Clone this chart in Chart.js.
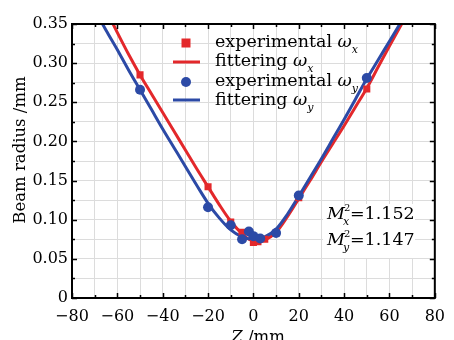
<!DOCTYPE html>
<html>
<head>
<meta charset="utf-8">
<script src="https://cdn.jsdelivr.net/npm/chart.js@4.4.1/dist/chart.umd.min.js"></script>
<style>
  html, body { margin: 0; padding: 0; background: #fff; }
  canvas { display: block; }
</style>
</head>
<body>
<canvas id="beamChart" width="454" height="340"></canvas>
<script>
// measured beam radius (mm) at each position z (mm)
const zX = [-50, -20, -10, -5, 0, 2, 5, 10, 20, 50];
const wxMeasured = [0.285, 0.142, 0.097, 0.084, 0.071, 0.072, 0.075, 0.083, 0.128, 0.267];
const zY = [-50, -20, -10, -5, -2, 0, 3, 10, 20, 50];
const wyMeasured = [0.266, 0.116, 0.093, 0.075, 0.085, 0.079, 0.076, 0.083, 0.131, 0.281];

// fitted caustic curves, sampled along z
const zFit = [-70, -65, -60, -55, -50, -45, -40, -35, -30, -25, -20, -15, -10, -5, -2, 0, 2, 5, 10, 15, 20, 25, 30, 35, 40, 45, 50, 55, 60, 65, 70];
const wxFit = [0.398, 0.368, 0.339, 0.311, 0.285, 0.261, 0.237, 0.213, 0.189, 0.165, 0.142, 0.119, 0.098, 0.082, 0.075, 0.073, 0.072, 0.074, 0.084, 0.104, 0.127, 0.150, 0.174, 0.197, 0.220, 0.244, 0.268, 0.295, 0.322, 0.348, 0.375];
const wyFit = [0.368, 0.342, 0.317, 0.291, 0.266, 0.241, 0.216, 0.192, 0.168, 0.144, 0.121, 0.102, 0.087, 0.078, 0.0755, 0.075, 0.0755, 0.078, 0.088, 0.107, 0.130, 0.154, 0.178, 0.203, 0.228, 0.254, 0.280, 0.304, 0.328, 0.352, 0.376];

const m2Labels = ['1.152', '1.147'];

const RED = '#e3282b';
const BLUE = '#2c4aa6';
const FONT = "'DejaVu Serif', serif";

const pairs = (xs, ys) => xs.map((v, i) => ({ x: v, y: ys[i] }));

function fmtZ(v) {
    return v < 0 ? '\u2212' + Math.abs(v) : String(v);
}

// draws consecutive text runs (each with its own font / vertical shift)
function textWithSub(ctx, parts, x, y) {
    parts.forEach(p => {
        ctx.font = p.font;
        ctx.fillText(p.t, x, y + (p.dy || 0));
        x += ctx.measureText(p.t).width + (p.gap || 0);
    });
    return x;
}

const decorations = {
    id: 'decorations',
    beforeDatasetsDraw(chart) {
        const ctx = chart.ctx;
        ctx.save();
        ctx.fillStyle = '#fff';
        ctx.fillRect(323, 204, 92, 54);
        ctx.restore();
    },
    afterDatasetsDraw(chart) {
        const { ctx, chartArea: a, scales: { x, y } } = chart;
        ctx.save();

        // inward tick marks on all four sides
        ctx.strokeStyle = '#000';
        ctx.lineWidth = 1.5;
        ctx.beginPath();
        for (let v = -80; v <= 80; v += 10) {
            const px = Math.round(x.getPixelForValue(v)) + 0.5;
            const len = v % 20 === 0 ? 5 : 3;
            ctx.moveTo(px, a.bottom); ctx.lineTo(px, a.bottom - len);
            ctx.moveTo(px, a.top); ctx.lineTo(px, a.top + len);
        }
        for (let i = 0; i <= 14; i++) {
            const py = Math.round(y.getPixelForValue(i * 0.025)) + 0.5;
            const len = i % 2 === 0 ? 5 : 3;
            ctx.moveTo(a.left, py); ctx.lineTo(a.left + len, py);
            ctx.moveTo(a.right, py); ctx.lineTo(a.right - len, py);
        }
        ctx.stroke();

        ctx.lineWidth = 2;
        ctx.strokeRect(a.left, a.top, a.right - a.left, a.bottom - a.top);

        // legend
        const mx = 186;
        ctx.fillStyle = RED;
        ctx.fillRect(mx - 4.5, 43 - 4.5, 9, 9);
        ctx.strokeStyle = RED;
        ctx.lineWidth = 3;
        ctx.beginPath(); ctx.moveTo(173, 62); ctx.lineTo(200, 62); ctx.stroke();
        ctx.fillStyle = BLUE;
        ctx.beginPath(); ctx.arc(mx, 82, 5, 0, Math.PI * 2); ctx.fill();
        ctx.strokeStyle = BLUE;
        ctx.beginPath(); ctx.moveTo(173, 100); ctx.lineTo(200, 100); ctx.stroke();

        ctx.fillStyle = '#000';
        ctx.textBaseline = 'alphabetic';
        ctx.textAlign = 'left';
        const rows = [['experimental ', 'x', 47], ['fittering ', 'x', 66], ['experimental ', 'y', 86], ['fittering ', 'y', 105]];
        rows.forEach(r => {
            textWithSub(ctx, [
                { t: r[0], font: '17.5px ' + FONT },
                { t: '\u03c9', font: 'italic 17.5px ' + FONT },
                { t: r[1], font: 'italic 11px ' + FONT, dy: 6 }
            ], 215, r[2]);
        });

        // beam quality factors
        [['x', 219], ['y', 245]].forEach((r, i) => {
            ctx.font = 'italic 17.5px ' + FONT;
            ctx.fillText('M', 327, r[1]);
            const sx = 327 + ctx.measureText('M').width;
            ctx.font = '10px ' + FONT;
            ctx.fillText('2', sx - 1, r[1] - 8);
            ctx.font = 'italic 11px ' + FONT;
            ctx.fillText(r[0], sx - 2, r[1] + 6);
            ctx.font = '17.5px ' + FONT;
            ctx.fillText('=' + m2Labels[i], sx + 5, r[1]);
        });

        // axis titles
        ctx.font = '16.5px ' + FONT;
        ctx.textAlign = 'center';
        ctx.textBaseline = 'middle';
        ctx.save();
        ctx.translate(21, 150);
        ctx.rotate(-Math.PI / 2);
        ctx.fillText('Beam radius /mm', 0, 0);
        ctx.restore();

        ctx.textAlign = 'left';
        ctx.textBaseline = 'alphabetic';
        ctx.font = 'italic 16.5px ' + FONT;
        const zw = ctx.measureText('Z').width;
        ctx.font = '16.5px ' + FONT;
        const rw = ctx.measureText(' /mm').width;
        const tx = 258 - (zw + rw) / 2;
        ctx.font = 'italic 16.5px ' + FONT;
        ctx.fillText('Z', tx, 342);
        ctx.font = '16.5px ' + FONT;
        ctx.fillText(' /mm', tx + zw, 342);

        ctx.restore();
    }
};

Chart.defaults.font.family = FONT;
Chart.defaults.color = '#000';

new Chart(document.getElementById('beamChart').getContext('2d'), {
    type: 'scatter',
    data: {
        datasets: [
            { label: 'experimental ωy', data: pairs(zY, wyMeasured), pointStyle: 'circle', pointRadius: 5, backgroundColor: BLUE, borderColor: BLUE, borderWidth: 0, order: 1 },
            { label: 'experimental ωx', data: pairs(zX, wxMeasured), pointStyle: 'rect', pointRadius: 5, backgroundColor: RED, borderColor: RED, borderWidth: 0, order: 2 },
            { label: 'fittering ωy', data: pairs(zFit, wyFit), showLine: true, pointRadius: 0, borderColor: BLUE, borderWidth: 3, cubicInterpolationMode: 'monotone', order: 3 },
            { label: 'fittering ωx', data: pairs(zFit, wxFit), showLine: true, pointRadius: 0, borderColor: RED, borderWidth: 3, cubicInterpolationMode: 'monotone', order: 4 }
        ]
    },
    options: {
        responsive: false,
        animation: false,
        layout: { padding: { top: 24, right: 12, left: 0, bottom: 0 } },
        plugins: { legend: { display: false }, tooltip: { enabled: false } },
        scales: {
            x: {
                type: 'linear',
                min: -80,
                max: 80,
                afterFit: s => { s.height = 42; },
                grid: { color: '#dcdcdc', lineWidth: 1, drawTicks: false },
                border: { display: false },
                ticks: {
                    stepSize: 10,
                    autoSkip: false,
                    maxRotation: 0,
                    padding: 9,
                    font: { size: 16 },
                    callback: v => (v % 20 === 0 ? fmtZ(v) : '')
                }
            },
            y: {
                min: 0,
                max: 0.35,
                afterFit: s => { s.width = 72; },
                grid: { color: '#dcdcdc', lineWidth: 1, drawTicks: false },
                border: { display: false },
                ticks: {
                    stepSize: 0.025,
                    autoSkip: false,
                    padding: 4,
                    font: { size: 16 },
                    callback: v => {
                        const k = v * 20;
                        if (Math.abs(k - Math.round(k)) > 1e-6) return '';
                        return Math.abs(v) < 1e-9 ? '0' : v.toFixed(2);
                    }
                }
            }
        }
    },
    plugins: [decorations]
});
</script>
</body>
</html>
